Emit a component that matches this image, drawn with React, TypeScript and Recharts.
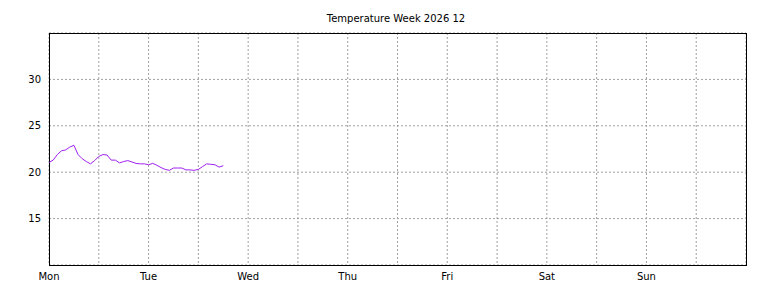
import React from 'react';
import { LineChart, Line, XAxis, YAxis, CartesianGrid, ReferenceArea } from 'recharts';

const dayLabels = ['Mon', 'Tue', 'Wed', 'Thu', 'Fri', 'Sat', 'Sun'];
const hourTicks = [0, 12, 24, 36, 48, 60, 72, 84, 96, 108, 120, 132, 144, 156];
const tempTicks = [15, 20, 25, 30];

// hours since Monday 00:00
const hours = [
  0, 1, 2, 3, 4, 5, 6, 7, 8, 9, 10, 11, 12, 13, 14, 15, 16, 17, 18, 19, 20, 21,
  22, 23, 24, 25, 26, 27, 28, 29, 30, 31, 32, 33, 34, 35, 36, 37, 38, 39, 40, 41, 42
];
const temps = [
  21.05, 21.3, 21.9, 22.3, 22.4, 22.7, 22.9, 21.9, 21.45, 21.15, 20.9, 21.25, 21.7,
  21.9, 21.85, 21.3, 21.3, 21.0, 21.15, 21.25, 21.1, 20.95, 20.9, 20.9, 20.8, 20.95,
  20.75, 20.5, 20.3, 20.2, 20.45, 20.45, 20.45, 20.25, 20.25, 20.2, 20.3, 20.6, 20.9,
  20.85, 20.8, 20.55, 20.7
];

const data = hours.map((h, i) => ({ hour: h, temp: temps[i] }));

const tickStyle = { fontFamily: 'DejaVu Sans', fontSize: 10, fill: '#000' };

export default function App() {
  return (
    <div style={{ position: 'absolute', left: 0, top: 0, width: 768, height: 288, background: '#fff' }}>
      <div
        style={{
          position: 'absolute',
          top: 14,
          left: 49,
          width: 694,
          textAlign: 'center',
          fontFamily: 'DejaVu Sans',
          fontSize: 10,
          lineHeight: '10px',
          color: '#000'
        }}
      >
        Temperature Week 2026 12
      </div>
      <LineChart width={768} height={288} data={data} margin={{ top: 33, right: 22, bottom: 3, left: 0 }}>
        <CartesianGrid stroke="#a0a0a0" strokeDasharray="2 2" />
        <XAxis
          dataKey="hour"
          type="number"
          domain={[0, 168]}
          ticks={hourTicks}
          interval={0}
          height={20}
          tickLine={false}
          axisLine={false}
          tick={tickStyle}
          tickFormatter={(h: number) => (h % 24 === 0 ? dayLabels[h / 24] : '')}
        />
        <YAxis
          type="number"
          domain={[10, 35]}
          ticks={tempTicks}
          width={49}
          tickLine={false}
          axisLine={false}
          tick={tickStyle}
        />
        <ReferenceArea
          x1={0}
          x2={168}
          y1={10}
          y2={35}
          fill="none"
          stroke="#000"
          strokeWidth={1}
          fillOpacity={0}
          shapeRendering="crispEdges"
        />
        <Line
          type="linear"
          dataKey="temp"
          stroke="#a020f0"
          strokeWidth={1}
          dot={false}
          isAnimationActive={false}
        />
      </LineChart>
    </div>
  );
}
